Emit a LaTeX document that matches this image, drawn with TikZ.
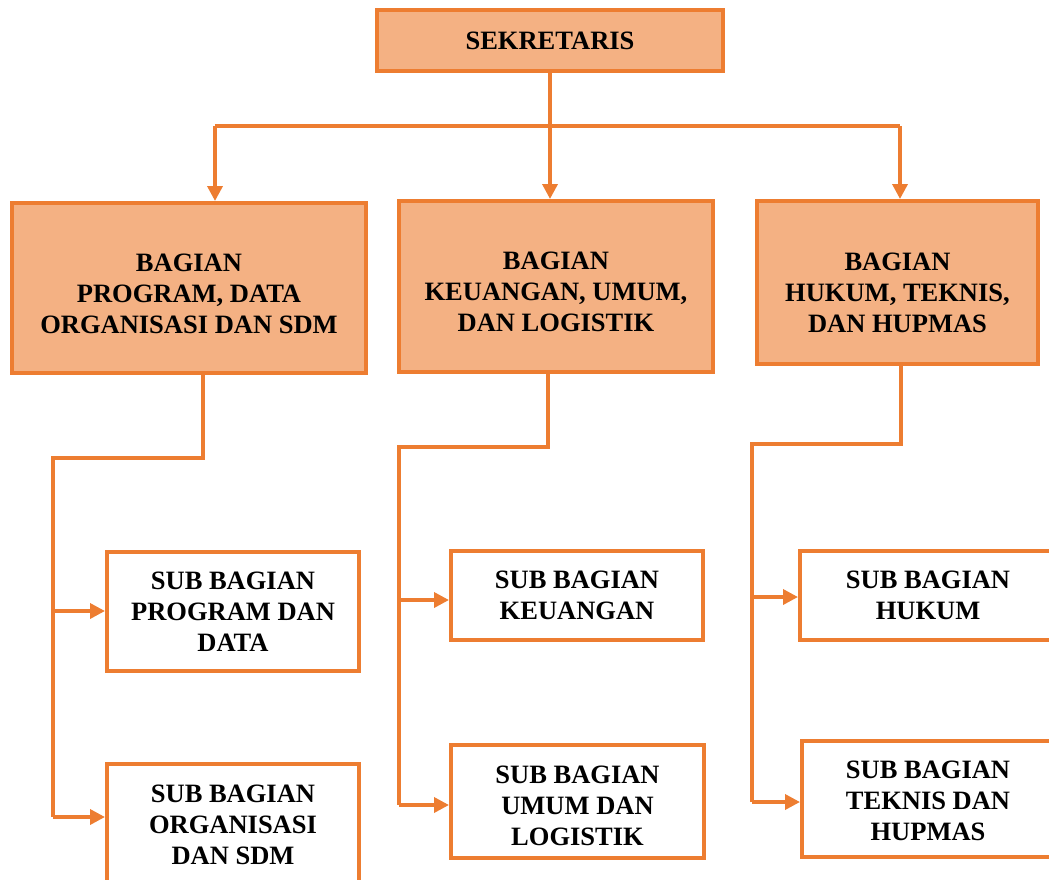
\documentclass[tikz,border=0pt]{standalone}
\usepackage{fontspec}
\setmainfont{Liberation Serif}
\usetikzlibrary{arrows.meta}
\definecolor{orline}{HTML}{ED7D31}
\definecolor{orfill}{HTML}{F4B183}
\tikzset{
  box/.style={draw=orline, line width=4pt, inner sep=0pt},
  mainbox/.style={box, fill=orfill},
  subbox/.style={box, fill=white},
  txt/.style={align=center, inner sep=0pt, font=\bfseries\fontsize{26.5}{31}\selectfont},
  conn/.style={draw=orline, line width=3.5pt},
  arr/.style={conn, -{Triangle[length=15pt,width=15pt]}}
}
\begin{document}
\begin{tikzpicture}[x=1pt,y=-1pt]
\useasboundingbox (0,0) rectangle (1049,879);
\clip (0,0) rectangle (1049,879);
% boxes
\node[mainbox, minimum width=346pt, minimum height=61pt] (sek) at (550,40.5) {};
\node[mainbox, minimum width=354pt, minimum height=170pt] (b1) at (189,288) {};
\node[mainbox, minimum width=314pt, minimum height=171pt] (b2) at (556,286.5) {};
\node[mainbox, minimum width=281pt, minimum height=163pt] (b3) at (897.5,282.5) {};
\node[subbox, minimum width=252pt, minimum height=119pt] (s1) at (233,611.5) {};
\node[subbox, minimum width=252pt, minimum height=124pt] (s2) at (233,826) {};
\node[subbox, minimum width=252pt, minimum height=89pt] (s3) at (577,595.5) {};
\node[subbox, minimum width=253pt, minimum height=113pt] (s4) at (577.5,801.5) {};
\node[subbox, minimum width=256pt, minimum height=89pt] (s5) at (928,595.5) {};
\node[subbox, minimum width=256pt, minimum height=116pt] (s6) at (930,799) {};
% texts
\node[txt] (tsek) at (sek) {SEKRETARIS};
\node[txt, yshift=-6pt] (tb1) at (b1) {BAGIAN\\PROGRAM, DATA\\ORGANISASI DAN SDM};
\node[txt, yshift=-5pt] (tb2) at (b2) {BAGIAN\\KEUANGAN, UMUM,\\DAN LOGISTIK};
\node[txt, yshift=-10pt] (tb3) at (b3) {BAGIAN\\HUKUM, TEKNIS,\\DAN HUPMAS};
\node[txt] (ts1) at (s1) {SUB BAGIAN\\PROGRAM DAN\\DATA};
\node[txt, yshift=1pt] (ts2) at (s2) {SUB BAGIAN\\ORGANISASI\\DAN SDM};
\node[txt] (ts3) at (s3) {SUB BAGIAN\\KEUANGAN};
\node[txt, yshift=-4pt] (ts4) at (s4) {SUB BAGIAN\\UMUM DAN\\LOGISTIK};
\node[txt] (ts5) at (s5) {SUB BAGIAN\\HUKUM};
\node[txt, yshift=-2pt, xshift=-2pt] (ts6) at (s6) {SUB BAGIAN\\TEKNIS DAN\\HUPMAS};
% top connectors
\coordinate (hl) at (215,126);
\coordinate (hr) at (900,126);
\draw[conn] (hl) -- (hr);
\draw[arr] (sek.south) -- (sek.south |- b2.north);
\draw[arr] (hl) -- (hl |- b1.north);
\draw[arr] (hr) -- (hr |- b3.north);
% left branch
\coordinate (k1) at (203,458);
\coordinate (l1) at (53,458);
\coordinate (t1) at (53,611);
\coordinate (t2) at (53,817);
\draw[conn] (k1 |- b1.south) -- (k1) -- (l1) -- (t2);
\draw[arr] (t1) -- (t1 -| s1.west);
\draw[arr] (t2) -- (t2 -| s2.west);
% middle branch
\coordinate (k2) at (548,447);
\coordinate (l2) at (399,447);
\coordinate (t3) at (399,600);
\coordinate (t4) at (399,805);
\draw[conn] (k2 |- b2.south) -- (k2) -- (l2) -- (t4);
\draw[arr] (t3) -- (t3 -| s3.west);
\draw[arr] (t4) -- (t4 -| s4.west);
% right branch
\coordinate (k3) at (901,444);
\coordinate (l3) at (752,444);
\coordinate (t5) at (752,597);
\coordinate (t6) at (752,802);
\draw[conn] (k3 |- b3.south) -- (k3) -- (l3) -- (t6);
\draw[arr] (t5) -- (t5 -| s5.west);
\draw[arr] (t6) -- (t6 -| s6.west);
\end{tikzpicture}
\end{document}
